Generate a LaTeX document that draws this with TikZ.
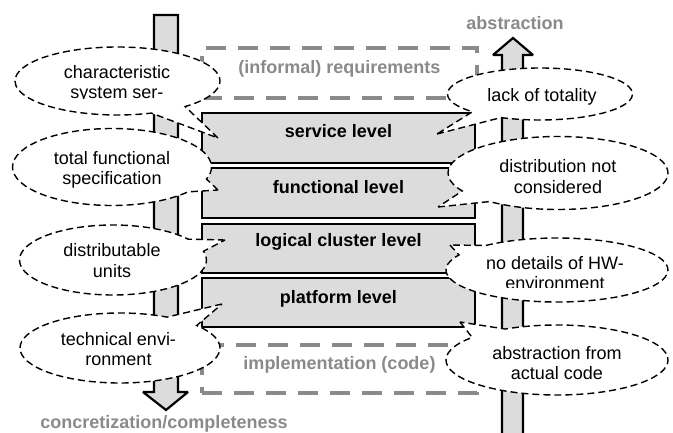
\documentclass[tikz,border=0pt]{standalone}
\usepackage{fontspec}
\setmainfont{Liberation Sans}
\usetikzlibrary{shapes.callouts}
\definecolor{levelgray}{RGB}{220,220,220}
\definecolor{softgray}{RGB}{138,138,138}
\begin{document}
\begin{tikzpicture}[x=1pt,y=-1pt,
  every node/.style={font=\fontsize{18}{21}\selectfont},
  lvl/.style={draw=black, line width=1.6pt, fill=levelgray, minimum width=273pt, inner sep=0pt},
  ghost/.style={draw=softgray, line width=4pt, dash pattern=on 20pt off 12pt, minimum width=275pt, inner sep=0pt},
  bubble/.style={ellipse callout, draw=black, fill=white, line width=1.4pt,
    dash pattern=on 7pt off 4pt, inner sep=0pt, callout pointer arc=22},
  note/.style={anchor=base, inner sep=0pt},
  lvltxt/.style={anchor=base, inner sep=0pt, font=\fontsize{18}{21}\selectfont\bfseries},
  graytxt/.style={anchor=base, inner sep=0pt, text=softgray, font=\fontsize{18}{21}\selectfont\bfseries},
  blockarrow/.style={draw=black, line width=2.2pt, line join=miter, miter limit=1.5}
]
\useasboundingbox (0,0) rectangle (673,433);

% downward arrow: concretization
\filldraw[blockarrow, fill=levelgray] (154,15) -- (178,15) -- (178,392) -- (188,392)
  -- (166,410) -- (143,392) -- (154,392) -- cycle;
% upward arrow: abstraction (runs off the bottom edge)
\fill[levelgray] (502,440) -- (502,55) -- (493,55) -- (513,38) -- (533,55) -- (523,55) -- (523,440) -- cycle;
\draw[blockarrow] (502,440) -- (502,55) -- (493,55) -- (513,38) -- (533,55) -- (523,55) -- (523,440);

\node[graytxt] (abs) at (515,30) {abstraction};
\node[graytxt] (conc) at (164,428.5) {concretization/completeness};

% dashed outer boxes
\node[ghost, minimum height=50pt] (req) at (339.5,73) {};
\node[ghost, minimum height=48pt] (impl) at (339.5,369) {};
\node[graytxt] (reqt) at (339.5,74) {(informal) requirements};
\node[graytxt] (implt) at (339.5,369) {implementation (code)};

% abstraction levels
\node[lvl, minimum height=50pt] (svc) at (338.5,138) {};
\node[lvl, minimum height=50pt] (fun) at (338.5,193) {};
\node[lvl, minimum height=49pt] (lcl) at (338.5,248.5) {};
\node[lvl, minimum height=49pt] (plt) at (338.5,302.5) {};
\node[lvltxt] (svct) at (338.5,138) {service level};
\node[lvltxt] (funt) at (338.5,194) {functional level};
\node[lvltxt] (lclt) at (338.5,247) {logical cluster level};
\node[lvltxt] (pltt) at (338.5,303) {platform level};

% left annotations
\node[bubble, minimum width=205pt, minimum height=68pt, callout absolute pointer={(218,138)}] (c1) at (117.5,81) {};
\node[bubble, minimum width=199pt, minimum height=77pt, callout absolute pointer={(218,190)}] (c2) at (112,167) {};
\node[bubble, minimum width=187pt, minimum height=70pt, callout absolute pointer={(225,240)}] (c5) at (113,260) {};
\node[bubble, minimum width=200pt, minimum height=70pt, callout absolute pointer={(222,304)}] (c6) at (120,348) {};
% right annotations
\node[bubble, minimum width=185pt, minimum height=52pt, callout absolute pointer={(437,134)}] (c3) at (540,94) {};
\node[bubble, minimum width=220pt, minimum height=73pt, callout absolute pointer={(438,207)}] (c4) at (558,173) {};
\node[bubble, minimum width=222pt, minimum height=64pt, callout absolute pointer={(450,245)}] (c7) at (557,270) {};
\node[bubble, minimum width=222pt, minimum height=70pt, callout absolute pointer={(460,322)}] (c8) at (557,360) {};

% annotation texts
\node[note] (c1a) at (117,78.5) {characteristic};
\begin{scope}
  \clip (0,80) rectangle (240,98.5);
  \node[note] (c1b) at (117,99) {system ser-};
\end{scope}
\node[note] (c2a) at (112,164.5) {total functional};
\node[note] (c2b) at (112,185) {specification};
\node[note] (c5a) at (112,256.5) {distributable};
\node[note] (c5b) at (112,277) {units};
\node[note] (c6a) at (118.5,345) {technical envi-};
\node[note] (c6b) at (118.5,365.5) {ronment};
\node[note] (c3a) at (542,101.5) {lack of totality};
\node[note] (c4a) at (558,173) {distribution not};
\node[note] (c4b) at (558,193.5) {considered};
\node[note] (c7a) at (555,269.5) {no details of HW-};
\begin{scope}
  \clip (440,272) rectangle (670,288);
  \node[note] (c7b) at (555,290) {environment};
\end{scope}
\node[note] (c8a) at (557,359.5) {abstraction from};
\node[note] (c8b) at (557,379) {actual code};
\end{tikzpicture}
\end{document}
